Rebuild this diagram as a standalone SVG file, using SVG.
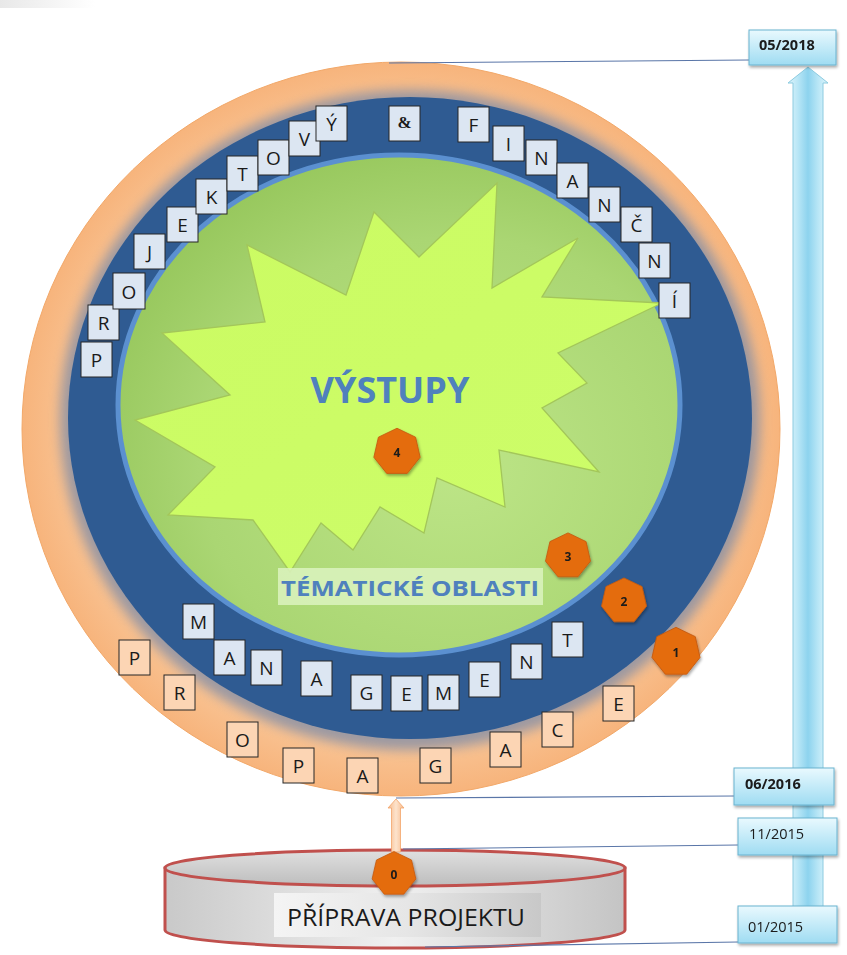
<svg xmlns="http://www.w3.org/2000/svg" width="847" height="955" viewBox="0 0 847 955">
<defs>
  <radialGradient id="gGreen" cx="0.6" cy="0.62" r="0.65">
    <stop offset="0" stop-color="#bde587"/>
    <stop offset="0.7" stop-color="#aad673"/>
    <stop offset="1" stop-color="#98c85e"/>
  </radialGradient>
  <linearGradient id="gStar" x1="0" y1="0" x2="1" y2="1">
    <stop offset="0" stop-color="#cbfb62"/>
    <stop offset="1" stop-color="#cdfd6a"/>
  </linearGradient>
  <radialGradient id="gOrange" cx="0.5" cy="0.5" r="0.5">
    <stop offset="0.85" stop-color="#f9c596"/>
    <stop offset="1" stop-color="#f7b47c"/>
  </radialGradient>
  <linearGradient id="gDate" x1="0" y1="0" x2="0" y2="1">
    <stop offset="0" stop-color="#e9f9fe"/>
    <stop offset="1" stop-color="#9fdcf2"/>
  </linearGradient>
  <linearGradient id="gShaft" x1="0" y1="0" x2="1" y2="0">
    <stop offset="0" stop-color="#dff5fc"/>
    <stop offset="0.25" stop-color="#b8e6f6"/>
    <stop offset="0.5" stop-color="#8dd3ee"/>
    <stop offset="0.75" stop-color="#b8e6f6"/>
    <stop offset="1" stop-color="#dff5fc"/>
  </linearGradient>
  <linearGradient id="gOArrow" x1="0" y1="0" x2="1" y2="0">
    <stop offset="0" stop-color="#f6b98a"/>
    <stop offset="0.5" stop-color="#fde3cc"/>
    <stop offset="1" stop-color="#f6b98a"/>
  </linearGradient>
  <linearGradient id="gCyl" x1="0" y1="0" x2="1" y2="0">
    <stop offset="0" stop-color="#c9c9c9"/>
    <stop offset="0.5" stop-color="#f0f0f0"/>
    <stop offset="1" stop-color="#c4c4c4"/>
  </linearGradient>
  <linearGradient id="gCylTop" x1="0" y1="0" x2="0" y2="1">
    <stop offset="0" stop-color="#e0e0e0"/>
    <stop offset="1" stop-color="#bdbdbd"/>
  </linearGradient>
  <linearGradient id="gLabel" x1="0" y1="0" x2="1" y2="0">
    <stop offset="0" stop-color="#f4f4f4"/>
    <stop offset="0.5" stop-color="#e6e6e6"/>
    <stop offset="1" stop-color="#c8c8c8"/>
  </linearGradient>
  <linearGradient id="gP" x1="0" y1="0" x2="1" y2="1">
    <stop offset="0" stop-color="#b07a50"/>
    <stop offset="0.6" stop-color="#f9cfae"/>
    <stop offset="1" stop-color="#fcd9bd"/>
  </linearGradient>
  <linearGradient id="gCorner" x1="0" y1="0" x2="1" y2="0">
    <stop offset="0" stop-color="#e8e8e8"/>
    <stop offset="1" stop-color="#ffffff"/>
  </linearGradient>
  <filter id="blur6" x="-10%" y="-10%" width="120%" height="120%">
    <feGaussianBlur stdDeviation="6"/>
  </filter>
  <filter id="shadow" x="-20%" y="-20%" width="150%" height="150%">
    <feGaussianBlur in="SourceAlpha" stdDeviation="1.5"/>
    <feOffset dx="1" dy="2" result="b"/>
    <feComponentTransfer><feFuncA type="linear" slope="0.35"/></feComponentTransfer>
    <feMerge><feMergeNode/><feMergeNode in="SourceGraphic"/></feMerge>
  </filter>
  <polygon id="hept" points="0,-22 17.2,-13.72 21.45,4.9 9.55,19.82 -9.55,19.82 -21.45,4.9 -17.2,-13.72"/>
  <style>
    .lb { fill: #dce6f2; stroke: #262626; stroke-width: 1; }
    .ob { fill: #fcd5b4; stroke: #262626; stroke-width: 1; }
    .lt { font-family: "Open Sans", "Noto Sans", sans-serif; font-size: 19px; fill: #1a1a1a; text-anchor: middle; }
    .hx { fill: #e46c0a; stroke: #c55a11; stroke-width: 0.8; }
    .hn { font-family: "Open Sans", "Noto Sans", sans-serif; font-size: 12px; font-weight: bold; fill: #1a1a1a; text-anchor: middle; }
    .db { fill: url(#gDate); stroke: #6ab3d0; stroke-width: 1; }
    .dt { font-family: "Open Sans", "Noto Sans", sans-serif; font-size: 14.5px; fill: #1a1a1a; }
    .ln { stroke: #5a76a8; stroke-width: 1.1; fill: none; }
    .title { font-family: "Open Sans", "Noto Sans", sans-serif; font-weight: bold; fill: #4f81bd; }
  </style>
</defs>

<rect x="0" y="0" width="847" height="955" fill="#ffffff"/>
<rect x="0" y="0" width="95" height="8" fill="url(#gCorner)"/>

<!-- timeline arrow -->
<g id="timeline-arrow">
  <polygon points="808,67 828,83 823,83 823,940 793,940 793,83 788,83" fill="url(#gShaft)" stroke="#8ccbe0" stroke-width="1"/>
</g>

<!-- main circle -->
<g id="circle">
  <ellipse cx="401" cy="429" rx="379" ry="367" fill="url(#gOrange)" stroke="#f2a869" stroke-width="1"/>
  <ellipse cx="410" cy="420" rx="350" ry="330" fill="#7d8aa6" opacity="0.75" filter="url(#blur6)"/>
  <ellipse cx="410" cy="418" rx="342" ry="321" fill="#2f5b92"/>
  <ellipse cx="399" cy="405" rx="281" ry="250" fill="url(#gGreen)" stroke="#5b90d0" stroke-width="5"/>
</g>

<g id="star">
  <polygon points="497,183 492,288 578,238 542,297 662,303 558,353 587,383 542,408 599,472 499,450 505,507 437,478 424,533 380,507 353,550 321,523 290,572 253,520 168,515 215,467 135,420 230,395 162,333 265,322 247,245 346,295 374,212 419,257" fill="url(#gStar)" stroke="#a3c65a" stroke-width="1.3" stroke-linejoin="miter"/>
  <text class="title" x="390" y="403" font-size="36" text-anchor="middle">VÝSTUPY</text>
</g>

<g id="tematicke">
  <rect x="278" y="568" width="265" height="37" fill="#dcf3c0" opacity="0.85"/>
  <text class="title" x="410" y="596" font-size="22" text-anchor="middle" textLength="258" lengthAdjust="spacingAndGlyphs">TÉMATICKÉ OBLASTI</text>
</g>

<!-- PROJEKTOVÝ & FINANČNÍ -->
<g id="projektovy-financni">
  <rect class="lb" x="81" y="342" width="31" height="35"/><text class="lt" x="96.5" y="367">P</text>
  <rect class="lb" x="88" y="305" width="31" height="35"/><text class="lt" x="103.5" y="330">R</text>
  <rect class="lb" x="113" y="273" width="32" height="36" stroke="#5b8fd0"/><text class="lt" x="129" y="299">O</text>
  <rect class="lb" x="134" y="234" width="31" height="35"/><text class="lt" x="149.5" y="259">J</text>
  <rect class="lb" x="167" y="207" width="31" height="35"/><text class="lt" x="182.5" y="232">E</text>
  <rect class="lb" x="196" y="179" width="31" height="35"/><text class="lt" x="211.5" y="204">K</text>
  <rect class="lb" x="227" y="156" width="31" height="35"/><text class="lt" x="242.5" y="181">T</text>
  <rect class="lb" x="258" y="140" width="31" height="35"/><text class="lt" x="273.5" y="165">O</text>
  <rect class="lb" x="289" y="121" width="31" height="35"/><text class="lt" x="304.5" y="146">V</text>
  <rect class="lb" x="316" y="106" width="31" height="35"/><text class="lt" x="331.5" y="131">Ý</text>
  <rect class="lb" x="389" y="106" width="31" height="35"/><text x="404.5" y="128" font-family="Liberation Serif, serif" font-weight="bold" font-size="17" fill="#1a1a1a" text-anchor="middle">&amp;</text>
  <rect class="lb" x="458" y="107" width="31" height="35"/><text class="lt" x="473.5" y="132">F</text>
  <rect class="lb" x="493" y="126" width="31" height="35"/><text class="lt" x="508.5" y="151">I</text>
  <rect class="lb" x="526" y="140" width="31" height="35"/><text class="lt" x="541.5" y="165">N</text>
  <rect class="lb" x="557" y="163" width="31" height="35"/><text class="lt" x="572.5" y="188">A</text>
  <rect class="lb" x="589" y="187" width="31" height="35"/><text class="lt" x="604.5" y="212">N</text>
  <rect class="lb" x="621" y="207" width="31" height="35"/><text class="lt" x="636.5" y="232">Č</text>
  <rect class="lb" x="639" y="243" width="31" height="35"/><text class="lt" x="654.5" y="268">N</text>
  <rect class="lb" x="659" y="283" width="31" height="35"/><text class="lt" x="674.5" y="308">Í</text>
</g>

<!-- MANAGEMENT -->
<g id="management">
  <rect class="lb" x="183" y="604" width="31" height="35"/><text class="lt" x="198.5" y="629">M</text>
  <rect class="lb" x="214" y="640" width="31" height="35"/><text class="lt" x="229.5" y="665">A</text>
  <rect class="lb" x="251" y="650" width="31" height="35"/><text class="lt" x="266.5" y="675">N</text>
  <rect class="lb" x="301" y="661" width="31" height="35"/><text class="lt" x="316.5" y="686">A</text>
  <rect class="lb" x="351" y="675" width="31" height="35"/><text class="lt" x="366.5" y="700">G</text>
  <rect class="lb" x="391" y="676" width="31" height="35"/><text class="lt" x="406.5" y="701">E</text>
  <rect class="lb" x="428" y="675" width="31" height="35"/><text class="lt" x="443.5" y="700">M</text>
  <rect class="lb" x="469" y="662" width="31" height="35"/><text class="lt" x="484.5" y="687">E</text>
  <rect class="lb" x="511" y="644" width="31" height="35"/><text class="lt" x="526.5" y="669">N</text>
  <rect class="lb" x="552" y="622" width="31" height="35"/><text class="lt" x="567.5" y="647">T</text>
</g>

<!-- PROPAGACE -->
<g id="propagace">
  <rect class="ob" x="119" y="640" width="31" height="35" fill="url(#gP)"/><text class="lt" x="134.5" y="665">P</text>
  <rect class="ob" x="164" y="675" width="31" height="35"/><text class="lt" x="179.5" y="700">R</text>
  <rect class="ob" x="227" y="722" width="31" height="35"/><text class="lt" x="242.5" y="747">O</text>
  <rect class="ob" x="283" y="748" width="31" height="35"/><text class="lt" x="298.5" y="773">P</text>
  <rect class="ob" x="347" y="758" width="31" height="35"/><text class="lt" x="362.5" y="783">A</text>
  <rect class="ob" x="420" y="748" width="31" height="35"/><text class="lt" x="435.5" y="773">G</text>
  <rect class="ob" x="490" y="732" width="31" height="35"/><text class="lt" x="505.5" y="757">A</text>
  <rect class="ob" x="542" y="712" width="31" height="35"/><text class="lt" x="557.5" y="737">C</text>
  <rect class="ob" x="603" y="686" width="31" height="35"/><text class="lt" x="618.5" y="711">E</text>
</g>

<!-- cylinder -->
<g id="priprava">
  <path d="M165,868 L165,930 A230,18 0 0 0 625,930 L625,868 Z" fill="url(#gCyl)" stroke="#c0504d" stroke-width="3"/>
  <ellipse cx="395" cy="868" rx="230" ry="18" fill="url(#gCylTop)" stroke="#c0504d" stroke-width="3"/>
  <rect x="274" y="893" width="267" height="44" fill="url(#gLabel)"/>
  <text x="406" y="926" font-family="Open Sans, Noto Sans, sans-serif" font-size="23" fill="#1a1a1a" text-anchor="middle" textLength="238" lengthAdjust="spacingAndGlyphs">PŘÍPRAVA PROJEKTU</text>
</g>

<!-- connectors -->
<g id="connectors">
  <line class="ln" x1="389" y1="63" x2="749" y2="60"/>
  <line class="ln" x1="396" y1="798" x2="735" y2="796"/>
  <line class="ln" x1="403" y1="849" x2="738" y2="845"/>
  <line class="ln" x1="425" y1="947" x2="738" y2="942"/>
  <polygon points="396,799 404,808 400.5,808 400.5,852 391.5,852 391.5,808 388,808" fill="url(#gOArrow)" stroke="#f2a46a" stroke-width="0.8"/>
</g>

<!-- date boxes -->
<g id="d2018" filter="url(#shadow)"><rect class="db" x="749" y="30" width="87" height="35"/><text class="dt" x="759" y="50" font-weight="bold">05/2018</text></g>
<g id="d062016" filter="url(#shadow)"><rect class="db" x="734" y="768" width="100" height="37"/><text class="dt" x="745" y="789" font-weight="bold">06/2016</text></g>
<g id="d112015" filter="url(#shadow)"><rect class="db" x="738" y="818" width="99" height="37"/><text class="dt" x="749" y="839">11/2015</text></g>
<g id="d012015" filter="url(#shadow)"><rect class="db" x="738" y="906" width="99" height="37"/><text class="dt" x="748" y="932">01/2015</text></g>

<!-- numbered markers -->
<g id="m4" filter="url(#shadow)"><use href="#hept" class="hx" transform="translate(397,452) scale(1.08)"/><text class="hn" x="397" y="457">4</text></g>
<g id="m3" filter="url(#shadow)"><use href="#hept" class="hx" transform="translate(568,556) scale(1.05)"/><text class="hn" x="568" y="561">3</text></g>
<g id="m2" filter="url(#shadow)"><use href="#hept" class="hx" transform="translate(624,601) scale(1.05)"/><text class="hn" x="624" y="606">2</text></g>
<g id="m1" filter="url(#shadow)"><use href="#hept" class="hx" transform="translate(676,652) scale(1.12)"/><text class="hn" x="676" y="657">1</text></g>
<g id="m0" filter="url(#shadow)"><use href="#hept" class="hx" transform="translate(394,874) scale(1.02)"/><text class="hn" x="394" y="879">0</text></g>
</svg>
